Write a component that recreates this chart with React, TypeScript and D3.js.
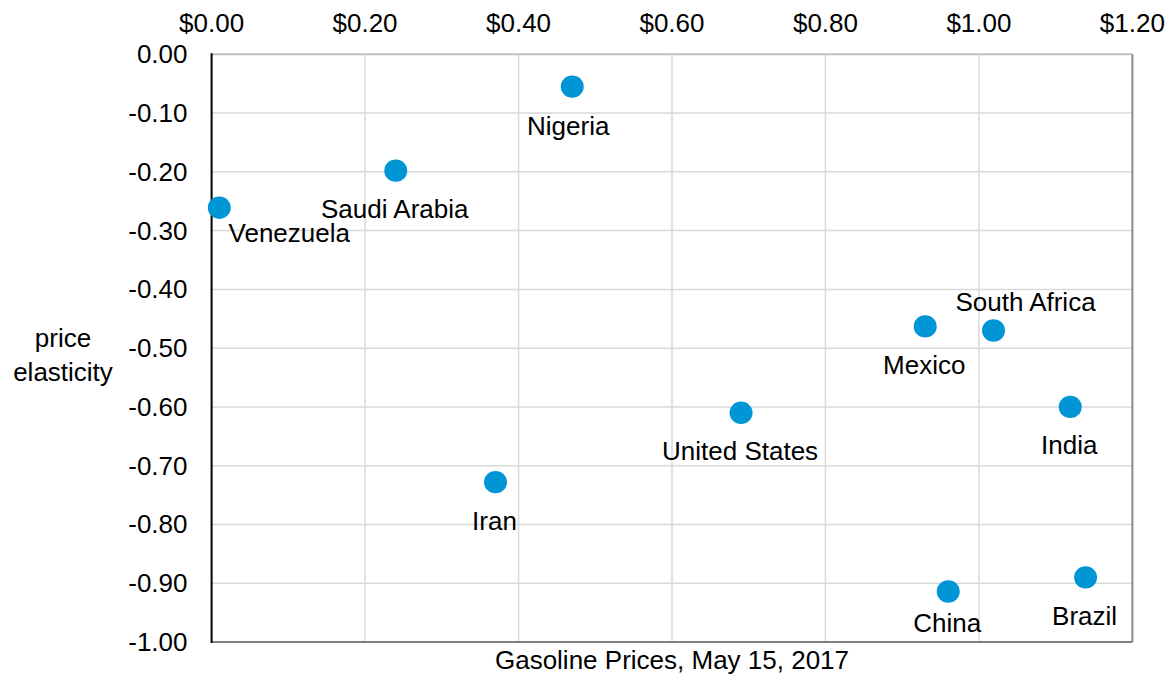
import React from "react";
import * as d3 from "d3";

const countries = ["Venezuela", "Saudi Arabia", "Nigeria", "Iran", "United States", "Mexico", "South Africa", "India", "China", "Brazil"];
const gasolinePrice = [0.01, 0.24, 0.47, 0.37, 0.69, 0.93, 1.019, 1.119, 0.96, 1.139];
const priceElasticity = [-0.261, -0.198, -0.055, -0.728, -0.61, -0.463, -0.47, -0.6, -0.914, -0.89];
const xTicks = [0, 0.2, 0.4, 0.6, 0.8, 1.0, 1.2];
const yTicks = [0, -0.1, -0.2, -0.3, -0.4, -0.5, -0.6, -0.7, -0.8, -0.9, -1.0];

// label placement (pixel offsets from the marker centre to the label baseline centre)
const labelOffsets: Record<string, [number, number]> = {
  "Venezuela": [70, 34],
  "South Africa": [32, -20],
  "China": [-1, 41],
  "Nigeria": [-4, 48],
};
const defaultOffset: [number, number] = [-1, 47.5];

const W = 1172;
const H = 676;
const FONT = "'Liberation Sans', Arial, sans-serif";

export default function App() {
  const x = d3.scaleLinear().domain([0, 1.2]).range([211.6, 1132.4]);
  const y = d3.scaleLinear().domain([0, -1]).range([54.3, 642]);
  const fmtX = (v: number) => "$" + d3.format(".2f")(v);
  const fmtY = (v: number) => d3.format(".2f")(v).replace("−", "-");
  const [x0, x1] = x.range();
  const [y0, y1] = y.range();

  return (
    <svg width={W} height={H} style={{ position: "absolute", left: 0, top: 0, background: "#fff" }} fontFamily={FONT}>
      {/* vertical gridlines */}
      {xTicks.slice(1, -1).map((t) => (
        <line key={"gx" + t} x1={x(t)} x2={x(t)} y1={y0} y2={y1} stroke="#d9d9d9" strokeWidth={1.5} />
      ))}
      {/* horizontal gridlines */}
      {yTicks.slice(1, -1).map((t) => (
        <line key={"gy" + t} x1={x0} x2={x1} y1={y(t)} y2={y(t)} stroke="#d9d9d9" strokeWidth={1.5} />
      ))}
      {/* borders */}
      <line x1={x0} x2={x1} y1={y0} y2={y0} stroke="#bfbfbf" strokeWidth={2} />
      <line x1={x1} x2={x1} y1={y0} y2={y1} stroke="#8c8c8c" strokeWidth={2} />
      <line x1={x0} x2={x1} y1={y1} y2={y1} stroke="#808080" strokeWidth={2} />
      <line x1={x0} x2={x0} y1={y0 - 1} y2={y1 + 1} stroke="#000" strokeWidth={2} />

      {/* top x tick labels */}
      {xTicks.map((t) => (
        <text key={"tx" + t} x={x(t)} y={31.7} textAnchor="middle" fontSize={26} fill="#000">
          {fmtX(t)}
        </text>
      ))}
      {/* y tick labels */}
      {yTicks.map((t) => (
        <text key={"ty" + t} x={187.5} y={y(t) + 9} textAnchor="end" fontSize={26} fill="#000">
          {fmtY(t)}
        </text>
      ))}

      {/* axis titles */}
      <text x={63} y={347} textAnchor="middle" fontSize={26} fill="#000">price</text>
      <text x={63} y={381} textAnchor="middle" fontSize={26} fill="#000">elasticity</text>
      <text x={(x0 + x1) / 2} y={669} textAnchor="middle" fontSize={26} fill="#000">
        Gasoline Prices, May 15, 2017
      </text>

      {/* points */}
      {countries.map((c, i) => (
        <ellipse key={"p" + c} cx={x(gasolinePrice[i])} cy={y(priceElasticity[i])} rx={11.5} ry={11.2} fill="#0096d6" />
      ))}
      {/* labels */}
      {countries.map((c, i) => {
        const [dx, dy] = labelOffsets[c] || defaultOffset;
        return (
          <text key={"l" + c} x={x(gasolinePrice[i]) + dx} y={y(priceElasticity[i]) + dy} textAnchor="middle" fontSize={26} fill="#000">
            {c}
          </text>
        );
      })}
    </svg>
  );
}
